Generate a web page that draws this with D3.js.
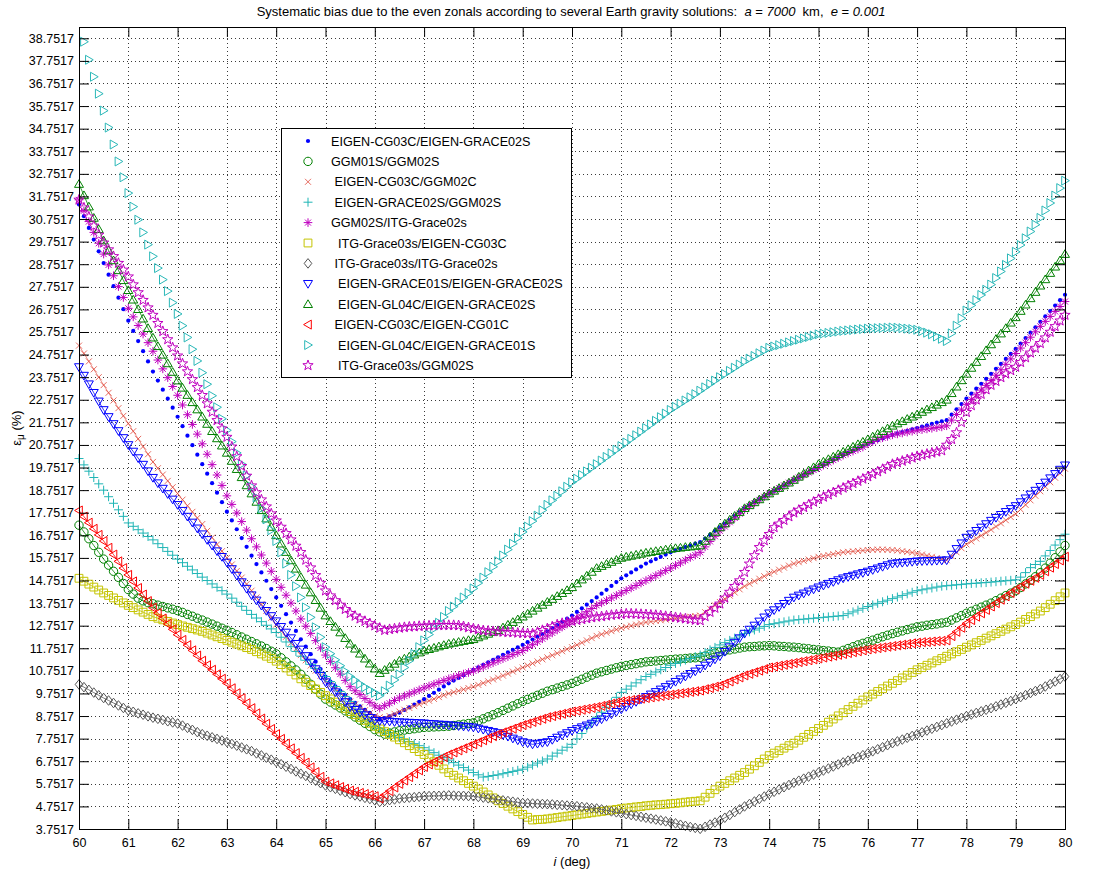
<!DOCTYPE html>
<html>
<head>
<script src="https://d3js.org/d3.v7.min.js"></script>
<style>
    body { margin: 0; background: #fff; font-family: Arial, "Liberation Sans", sans-serif; }
    text { white-space: pre; }
</style>
</head>
<body>
<svg width="1097" height="873"></svg>
<script>

// inclination grid (deg), one sample every 0.1 deg
const incl = d3.range(0, 201).map(i => 60 + i / 10);
const xTicks = d3.range(60, 81);
const yTicks = d3.range(0, 36).map(k => 3.7517 + k);

const legendNames = [
    "EIGEN-CG03C/EIGEN-GRACE02S",
    "GGM01S/GGM02S",
    " EIGEN-CG03C/GGM02C",
    " EIGEN-GRACE02S/GGM02S",
    "GGM02S/ITG-Grace02s",
    "  ITG-Grace03s/EIGEN-CG03C",
    " ITG-Grace03s/ITG-Grace02s",
    "  EIGEN-GRACE01S/EIGEN-GRACE02S",
    "  EIGEN-GL04C/EIGEN-GRACE02S",
    " EIGEN-CG03C/EIGEN-CG01C",
    "  EIGEN-GL04C/EIGEN-GRACE01S",
    "  ITG-Grace03s/GGM02S"
];

// values in %
const cg03cGrace02s = [31.40,30.88,30.36,29.84,29.32,28.80,28.29,27.78,27.27,26.76,
26.25,25.80,25.35,24.90,24.45,24.00,23.60,23.20,22.80,22.40,
22.00,21.58,21.16,20.74,20.32,19.90,19.48,19.06,18.64,18.22,
17.80,17.41,17.02,16.63,16.24,15.85,15.48,15.11,14.74,14.37,
14.00,13.63,13.26,12.89,12.52,12.15,11.82,11.49,11.16,10.83,
10.50,10.28,10.07,9.87,9.68,9.50,9.34,9.18,9.03,8.89,
8.75,8.60,8.66,8.74,8.82,8.90,9.02,9.14,9.26,9.38,
9.50,9.64,9.78,9.92,10.06,10.20,10.32,10.44,10.56,10.68,
10.80,10.91,11.02,11.13,11.24,11.35,11.46,11.57,11.68,11.79,
11.90,12.02,12.14,12.26,12.38,12.50,12.64,12.78,12.92,13.06,
13.20,13.36,13.52,13.68,13.84,14.00,14.17,14.34,14.51,14.68,
14.85,14.98,15.11,15.24,15.37,15.50,15.60,15.70,15.80,15.90,
16.00,16.08,16.15,16.23,16.30,16.38,16.45,16.61,16.77,16.94,
17.10,17.27,17.44,17.61,17.78,17.95,18.08,18.21,18.34,18.47,
18.60,18.72,18.84,18.96,19.08,19.20,19.31,19.42,19.53,19.64,
19.75,19.86,19.97,20.08,20.19,20.30,20.40,20.50,20.60,20.70,
20.80,20.88,20.96,21.04,21.12,21.20,21.26,21.32,21.38,21.44,
21.50,21.56,21.62,21.68,21.74,21.80,21.85,22.09,22.33,22.56,
22.80,23.02,23.24,23.46,23.68,23.90,24.12,24.34,24.56,24.78,
25.00,25.24,25.48,25.72,25.96,26.20,26.44,26.68,26.92,27.16,
27.40];

const ggm01sGgm02s = [17.2,16.9,16.6,16.3,16.0,15.7,15.43,15.16,14.89,14.62,
14.35,14.15,13.97,13.85,13.77,13.72,13.66,13.6,13.54,13.48,
13.42,13.34,13.25,13.17,13.08,13.0,12.91,12.82,12.73,12.64,
12.55,12.45,12.35,12.25,12.15,12.05,11.95,11.85,11.74,11.62,
11.5,11.33,11.15,10.97,10.79,10.6,10.38,10.16,9.94,9.72,
9.5,9.37,9.24,9.11,8.98,8.85,8.71,8.57,8.43,8.29,
8.15,8.05,7.95,8.0,8.05,8.1,8.13,8.16,8.19,8.22,
8.25,8.26,8.27,8.28,8.29,8.3,8.33,8.36,8.39,8.42,
8.45,8.54,8.63,8.72,8.81,8.9,9.0,9.1,9.2,9.3,
9.4,9.49,9.58,9.67,9.76,9.85,9.92,9.99,10.06,10.13,
10.2,10.29,10.38,10.47,10.56,10.65,10.71,10.77,10.83,10.89,
10.95,10.99,11.03,11.07,11.11,11.15,11.17,11.19,11.21,11.23,
11.25,11.27,11.28,11.3,11.32,11.33,11.35,11.41,11.48,11.54,
11.6,11.64,11.68,11.72,11.76,11.8,11.82,11.83,11.85,11.86,
11.87,11.86,11.84,11.83,11.81,11.8,11.78,11.75,11.73,11.7,
11.68,11.65,11.63,11.6,11.58,11.66,11.74,11.82,11.9,11.97,
12.04,12.11,12.19,12.26,12.33,12.4,12.46,12.52,12.58,12.64,
12.7,12.73,12.77,12.8,12.83,12.87,12.9,13.0,13.1,13.2,
13.3,13.39,13.48,13.57,13.66,13.75,13.86,13.97,14.08,14.19,
14.3,14.44,14.6,14.76,14.92,15.1,15.3,15.52,15.76,16.02,
16.3];

const cg03cGgm02c = [25.15,24.8,24.45,24.1,23.75,23.4,23.06,22.72,22.38,22.04,
21.7,21.36,21.02,20.68,20.34,20.0,19.72,19.44,19.16,18.88,
18.6,18.33,18.06,17.79,17.52,17.25,16.95,16.65,16.35,16.05,
15.75,15.46,15.17,14.88,14.59,14.3,14.0,13.7,13.4,13.1,
12.8,12.53,12.26,11.99,11.72,11.45,11.22,10.99,10.76,10.53,
10.3,10.12,9.94,9.76,9.58,9.4,9.27,9.14,9.01,8.88,
8.75,8.7,8.65,8.75,8.85,8.95,9.03,9.11,9.19,9.27,
9.35,9.43,9.51,9.59,9.67,9.75,9.81,9.87,9.93,9.99,
10.05,10.13,10.21,10.29,10.37,10.45,10.54,10.63,10.72,10.81,
10.9,10.99,11.08,11.17,11.26,11.35,11.44,11.53,11.62,11.71,
11.8,11.9,12.0,12.1,12.2,12.3,12.37,12.44,12.51,12.58,
12.65,12.7,12.75,12.8,12.85,12.9,12.93,12.96,12.99,13.02,
13.05,13.08,13.1,13.13,13.15,13.18,13.2,13.35,13.5,13.65,
13.8,13.94,14.08,14.22,14.36,14.5,14.61,14.72,14.83,14.94,
15.05,15.14,15.23,15.32,15.41,15.5,15.56,15.62,15.68,15.74,
15.8,15.84,15.88,15.92,15.96,16.0,16.02,16.04,16.06,16.08,
16.1,16.11,16.12,16.12,16.11,16.1,16.08,16.05,16.02,15.99,
15.95,15.9,15.85,15.8,15.75,15.7,15.65,15.83,16.0,16.18,
16.35,16.48,16.61,16.74,16.87,17.0,17.14,17.28,17.42,17.56,
17.7,17.9,18.1,18.3,18.5,18.7,18.9,19.1,19.3,19.5,
19.7];

const grace02sGgm02s = [20.15,19.87,19.59,19.31,19.03,18.75,18.46,18.17,17.88,17.59,
17.3,17.15,17.0,16.85,16.7,16.55,16.38,16.21,16.04,15.87,
15.7,15.54,15.38,15.22,15.06,14.9,14.75,14.6,14.45,14.3,
14.15,13.97,13.79,13.61,13.43,13.25,13.09,12.93,12.77,12.61,
12.45,12.24,12.03,11.82,11.61,11.4,11.22,11.04,10.86,10.68,
10.5,10.28,10.06,9.84,9.62,9.4,9.18,8.96,8.74,8.52,
8.3,8.2,8.1,8.0,7.9,7.8,7.71,7.62,7.53,7.44,
7.35,7.24,7.13,7.02,6.91,6.8,6.69,6.58,6.47,6.36,
6.25,6.15,6.05,6.08,6.12,6.15,6.2,6.25,6.3,6.35,
6.4,6.49,6.58,6.67,6.76,6.85,6.98,7.11,7.24,7.37,
7.5,7.74,7.98,8.22,8.46,8.7,8.92,9.14,9.36,9.58,
9.8,9.94,10.08,10.22,10.36,10.5,10.6,10.7,10.8,10.9,
11.0,11.08,11.15,11.23,11.3,11.38,11.45,11.56,11.68,11.79,
11.9,12.0,12.1,12.2,12.3,12.4,12.48,12.56,12.64,12.72,
12.8,12.84,12.88,12.92,12.96,13.0,13.02,13.04,13.06,13.08,
13.1,13.12,13.14,13.16,13.18,13.2,13.28,13.36,13.44,13.52,
13.6,13.67,13.74,13.81,13.88,13.95,14.02,14.09,14.16,14.23,
14.3,14.34,14.38,14.42,14.46,14.5,14.52,14.54,14.56,14.58,
14.6,14.62,14.63,14.65,14.66,14.68,14.7,14.72,14.74,14.76,
14.78,14.9,15.1,15.32,15.46,15.6,15.84,16.08,16.32,16.56,
16.8];

const ggm02sItg02s = [31.6,31.12,30.64,30.16,29.68,29.2,28.72,28.24,27.76,27.28,
26.8,26.42,26.04,25.66,25.28,24.9,24.51,24.12,23.73,23.34,
22.95,22.52,22.09,21.66,21.23,20.8,20.34,19.88,19.42,18.96,
18.5,18.12,17.74,17.36,16.98,16.6,16.24,15.88,15.52,15.16,
14.8,14.45,14.1,13.75,13.4,13.05,12.73,12.41,12.09,11.77,
11.45,11.17,10.89,10.61,10.33,10.05,9.87,9.7,9.53,9.36,
9.2,9.1,9.21,9.32,9.44,9.55,9.64,9.73,9.82,9.91,
10.0,10.08,10.16,10.24,10.32,10.4,10.47,10.54,10.61,10.68,
10.75,10.84,10.93,11.02,11.11,11.2,11.29,11.38,11.47,11.56,
11.65,11.78,11.91,12.04,12.17,12.3,12.43,12.56,12.69,12.82,
12.95,13.09,13.23,13.37,13.51,13.65,13.76,13.87,13.98,14.09,
14.2,14.31,14.42,14.53,14.64,14.75,14.86,14.97,15.08,15.19,
15.3,15.42,15.53,15.65,15.77,15.88,16.0,16.24,16.48,16.71,
16.95,17.14,17.33,17.52,17.71,17.9,18.04,18.18,18.32,18.46,
18.6,18.72,18.84,18.96,19.08,19.2,19.31,19.42,19.53,19.64,
19.75,19.86,19.97,20.08,20.19,20.3,20.39,20.48,20.57,20.66,
20.8,20.9,21.0,21.07,21.13,21.2,21.24,21.28,21.32,21.36,
21.4,21.43,21.46,21.49,21.52,21.55,21.6,21.85,22.1,22.3,
22.55,22.76,22.97,23.18,23.39,23.6,23.84,24.08,24.32,24.56,
24.8,25.04,25.28,25.52,25.76,26.0,26.22,26.44,26.66,26.88,
27.1];

const itg03sCg03c = [14.85,14.72,14.59,14.46,14.33,14.2,14.09,13.98,13.87,13.76,
13.65,13.55,13.45,13.35,13.25,13.15,13.08,13.01,12.94,12.87,
12.8,12.74,12.68,12.62,12.56,12.5,12.42,12.34,12.26,12.18,
12.1,12.02,11.94,11.86,11.78,11.7,11.6,11.5,11.4,11.3,
11.18,11.03,10.88,10.73,10.57,10.4,10.25,10.1,9.95,9.8,
9.65,9.51,9.37,9.23,9.09,8.95,8.82,8.69,8.56,8.43,
8.3,8.18,8.06,7.94,7.82,7.7,7.57,7.44,7.31,7.18,
7.05,6.89,6.73,6.57,6.41,6.25,6.13,6.01,5.89,5.77,
5.65,5.52,5.39,5.26,5.13,5.0,4.88,4.76,4.64,4.52,
4.4,4.27,4.15,4.17,4.18,4.2,4.23,4.26,4.29,4.32,
4.35,4.38,4.41,4.44,4.47,4.5,4.53,4.56,4.59,4.62,
4.65,4.68,4.7,4.73,4.75,4.78,4.8,4.82,4.83,4.85,
4.87,4.89,4.91,4.94,4.96,4.98,5.0,5.16,5.33,5.49,
5.65,5.77,5.89,6.01,6.13,6.25,6.4,6.55,6.7,6.85,
7.0,7.11,7.22,7.33,7.44,7.55,7.68,7.81,7.94,8.07,
8.2,8.34,8.48,8.62,8.76,8.9,9.04,9.18,9.32,9.46,
9.6,9.72,9.84,9.96,10.08,10.2,10.32,10.44,10.56,10.68,
10.8,10.9,11.0,11.1,11.2,11.3,11.4,11.5,11.6,11.7,
11.8,11.9,12.0,12.1,12.2,12.3,12.4,12.5,12.6,12.7,
12.8,12.91,13.03,13.15,13.27,13.4,13.55,13.7,13.86,14.03,
14.2];

const itg03sItg02s = [10.15,10.03,9.91,9.79,9.67,9.55,9.44,9.33,9.22,9.11,
9.0,8.94,8.87,8.81,8.74,8.68,8.63,8.58,8.52,8.47,
8.42,8.33,8.23,8.14,8.04,7.95,7.88,7.81,7.74,7.67,
7.6,7.52,7.44,7.36,7.28,7.2,7.1,7.01,6.91,6.82,
6.72,6.62,6.51,6.41,6.3,6.2,6.1,5.99,5.89,5.78,
5.68,5.6,5.53,5.45,5.38,5.3,5.24,5.19,5.13,5.08,
5.02,4.95,4.99,5.03,5.06,5.1,5.12,5.14,5.16,5.18,
5.2,5.21,5.22,5.22,5.23,5.24,5.23,5.22,5.22,5.21,
5.2,5.17,5.14,5.11,5.08,5.05,5.02,4.99,4.96,4.93,
4.9,4.89,4.88,4.87,4.86,4.85,4.84,4.82,4.81,4.79,
4.78,4.76,4.73,4.71,4.68,4.66,4.62,4.58,4.53,4.49,
4.45,4.41,4.37,4.33,4.29,4.25,4.21,4.17,4.13,4.09,
4.05,4.0,3.94,3.89,3.84,3.8,3.76,3.85,3.95,4.04,
4.12,4.25,4.37,4.5,4.62,4.75,4.86,4.97,5.08,5.19,
5.3,5.4,5.5,5.6,5.7,5.8,5.89,5.98,6.07,6.16,
6.25,6.34,6.43,6.52,6.61,6.7,6.78,6.86,6.94,7.02,
7.1,7.19,7.28,7.37,7.46,7.55,7.63,7.71,7.79,7.87,
7.95,8.03,8.11,8.19,8.27,8.35,8.43,8.51,8.59,8.67,
8.75,8.82,8.89,8.96,9.03,9.1,9.18,9.26,9.34,9.42,
9.5,9.59,9.68,9.77,9.86,9.95,10.06,10.17,10.28,10.39,
10.5];

const grace01sGrace02s = [24.2,23.82,23.44,23.06,22.68,22.3,21.99,21.68,21.37,21.06,
20.75,20.46,20.17,19.88,19.59,19.3,19.06,18.82,18.58,18.34,
18.1,17.84,17.58,17.32,17.06,16.8,16.55,16.3,16.05,15.8,
15.55,15.26,14.97,14.68,14.39,14.1,13.87,13.64,13.41,13.18,
12.95,12.7,12.45,12.2,11.95,11.7,11.41,11.12,10.83,10.54,
10.25,10.03,9.81,9.59,9.37,9.15,9.03,8.91,8.79,8.67,
8.55,8.54,8.52,8.51,8.49,8.48,8.47,8.46,8.45,8.44,
8.43,8.41,8.4,8.38,8.37,8.35,8.33,8.31,8.29,8.27,
8.25,8.2,8.15,8.1,8.05,8.0,7.92,7.84,7.76,7.68,
7.6,7.55,7.5,7.53,7.57,7.6,7.7,7.8,7.9,8.0,
8.1,8.18,8.26,8.34,8.42,8.5,8.61,8.72,8.83,8.94,
9.05,9.16,9.27,9.38,9.49,9.6,9.71,9.82,9.93,10.04,
10.15,10.27,10.38,10.5,10.62,10.73,10.85,10.99,11.12,11.26,
11.4,11.6,11.8,12.0,12.2,12.4,12.58,12.76,12.94,13.12,
13.3,13.44,13.58,13.72,13.86,14.0,14.09,14.18,14.27,14.36,
14.45,14.53,14.61,14.69,14.77,14.85,14.91,14.97,15.03,15.09,
15.15,15.22,15.29,15.36,15.43,15.5,15.52,15.54,15.56,15.58,
15.6,15.61,15.62,15.62,15.63,15.64,15.65,15.9,16.15,16.4,
16.65,16.8,16.95,17.1,17.25,17.4,17.53,17.66,17.79,17.92,
18.05,18.22,18.39,18.56,18.73,18.9,19.09,19.28,19.47,19.66,
19.85];

const gl04cGrace02s = [32.3,31.8,31.3,30.8,30.3,29.8,29.36,28.92,28.48,28.04,
27.6,27.18,26.76,26.34,25.92,25.5,25.12,24.74,24.36,23.98,
23.6,23.28,22.96,22.64,22.32,22.0,21.68,21.36,21.04,20.72,
20.4,20.04,19.68,19.32,18.96,18.6,18.23,17.86,17.49,17.12,
16.75,16.38,16.01,15.64,15.27,14.9,14.56,14.22,13.88,13.54,
13.2,12.95,12.7,12.45,12.2,11.95,11.73,11.51,11.29,11.07,
10.85,10.65,10.79,10.93,11.06,11.2,11.29,11.38,11.47,11.56,
11.65,11.71,11.77,11.83,11.89,11.95,11.99,12.03,12.07,12.11,
12.15,12.23,12.31,12.39,12.47,12.55,12.67,12.79,12.91,13.03,
13.15,13.28,13.41,13.54,13.67,13.8,13.93,14.06,14.19,14.32,
14.45,14.62,14.79,14.96,15.13,15.3,15.39,15.48,15.57,15.66,
15.75,15.8,15.84,15.89,15.93,15.98,16.01,16.05,16.08,16.12,
16.15,16.18,16.2,16.23,16.25,16.28,16.3,16.5,16.7,16.9,
17.1,17.27,17.44,17.61,17.78,17.95,18.08,18.21,18.34,18.47,
18.6,18.72,18.84,18.96,19.08,19.2,19.34,19.48,19.62,19.76,
19.9,20.01,20.12,20.23,20.34,20.45,20.56,20.67,20.78,20.89,
21.0,21.12,21.24,21.36,21.48,21.6,21.7,21.8,21.9,22.0,
22.1,22.21,22.32,22.42,22.53,22.64,22.75,23.04,23.33,23.61,
23.9,24.16,24.42,24.68,24.94,25.2,25.44,25.68,25.92,26.16,
26.4,26.68,26.96,27.24,27.52,27.8,28.08,28.36,28.64,28.92,
29.2];

const cg03cCg01c = [17.85,17.58,17.31,17.04,16.77,16.5,16.2,15.9,15.6,15.3,
15.0,14.71,14.42,14.13,13.84,13.55,13.31,13.07,12.83,12.59,
12.35,12.12,11.89,11.66,11.43,11.2,11.0,10.8,10.6,10.4,
10.2,9.98,9.76,9.54,9.32,9.1,8.87,8.64,8.41,8.18,
7.95,7.74,7.53,7.32,7.11,6.9,6.69,6.48,6.27,6.06,
5.85,5.77,5.69,5.61,5.53,5.45,5.4,5.35,5.3,5.25,
5.2,5.1,5.26,5.43,5.59,5.75,5.9,6.05,6.2,6.35,
6.5,6.61,6.72,6.83,6.94,7.05,7.14,7.23,7.32,7.41,
7.5,7.59,7.68,7.77,7.86,7.95,8.03,8.11,8.19,8.27,
8.35,8.42,8.49,8.56,8.63,8.7,8.75,8.8,8.85,8.9,
8.95,8.99,9.03,9.07,9.11,9.15,9.2,9.25,9.3,9.35,
9.4,9.43,9.46,9.49,9.52,9.55,9.58,9.61,9.64,9.67,
9.7,9.73,9.76,9.79,9.82,9.85,9.88,9.94,9.99,10.05,
10.1,10.19,10.28,10.37,10.46,10.55,10.62,10.69,10.76,10.83,
10.9,10.94,10.98,11.02,11.06,11.1,11.14,11.18,11.22,11.26,
11.3,11.34,11.38,11.42,11.46,11.5,11.54,11.58,11.62,11.66,
11.7,11.73,11.76,11.79,11.82,11.85,11.88,11.91,11.94,11.97,
12.0,12.02,12.03,12.05,12.07,12.08,12.1,12.29,12.48,12.66,
12.85,13.0,13.15,13.3,13.45,13.6,13.75,13.9,14.05,14.2,
14.35,14.48,14.61,14.74,14.87,15.0,15.16,15.32,15.48,15.64,
15.8];

const gl04cGrace01s = [39.4,38.6,37.8,37.05,36.3,35.55,34.8,34.05,33.3,32.6,
31.9,31.3,30.72,30.16,29.62,29.1,28.58,28.07,27.56,27.05,
26.55,26.03,25.51,24.99,24.47,23.95,23.44,22.93,22.42,21.91,
21.4,20.9,20.4,19.9,19.4,18.9,18.42,17.94,17.46,16.98,
16.5,16.0,15.5,15.0,14.5,14.0,13.56,13.12,12.68,12.24,
11.8,11.51,11.24,10.98,10.73,10.5,10.33,10.17,10.03,9.9,
9.78,9.65,9.85,10.1,10.35,10.6,10.9,11.2,11.5,11.8,
12.1,12.36,12.62,12.88,13.14,13.4,13.6,13.8,14.0,14.2,
14.4,14.64,14.88,15.12,15.36,15.6,15.86,16.12,16.38,16.64,
16.9,17.14,17.38,17.62,17.86,18.1,18.3,18.5,18.7,18.9,
19.1,19.26,19.42,19.58,19.74,19.9,20.06,20.22,20.38,20.54,
20.7,20.86,21.02,21.18,21.34,21.5,21.66,21.82,21.98,22.14,
22.3,22.44,22.58,22.72,22.86,23.0,23.15,23.3,23.45,23.6,
23.75,23.89,24.03,24.17,24.31,24.45,24.57,24.69,24.81,24.93,
25.05,25.11,25.17,25.23,25.29,25.35,25.41,25.47,25.53,25.59,
25.65,25.68,25.71,25.74,25.77,25.8,25.82,25.84,25.86,25.88,
25.9,25.91,25.92,25.93,25.94,25.95,25.94,25.92,25.9,25.88,
25.85,25.79,25.72,25.65,25.55,25.45,25.35,25.69,26.03,26.36,
26.7,26.93,27.16,27.39,27.62,27.85,28.14,28.43,28.72,29.01,
29.3,29.6,29.9,30.2,30.5,30.8,31.13,31.46,31.79,32.12,
32.45];

const itg03sGgm02s = [31.6,31.25,30.85,30.45,30.05,29.7,29.4,29.1,28.8,28.5,
28.2,27.85,27.5,27.16,26.83,26.5,26.14,25.78,25.42,25.06,
24.7,24.35,24.0,23.65,23.3,22.95,22.58,22.21,21.84,21.47,
21.1,20.67,20.24,19.81,19.38,18.95,18.64,18.33,18.02,17.71,
17.4,17.12,16.84,16.56,16.28,16.0,15.66,15.32,14.98,14.64,
14.3,14.08,13.87,13.67,13.48,13.3,13.18,13.06,12.95,12.85,
12.75,12.65,12.55,12.59,12.62,12.65,12.68,12.7,12.71,12.73,
12.74,12.75,12.76,12.77,12.77,12.77,12.77,12.76,12.72,12.67,
12.62,12.58,12.54,12.52,12.5,12.49,12.47,12.46,12.45,12.43,
12.42,12.41,12.4,12.47,12.55,12.63,12.71,12.8,12.86,12.9,
12.95,12.99,13.03,13.07,13.11,13.14,13.16,13.19,13.22,13.24,
13.26,13.28,13.28,13.27,13.26,13.25,13.23,13.22,13.2,13.17,
13.14,13.12,13.09,13.06,13.03,13.0,12.98,13.16,13.35,13.53,
13.72,13.98,14.24,14.5,14.75,15.12,15.49,15.86,16.22,16.52,
16.8,17.1,17.26,17.42,17.58,17.75,17.87,17.99,18.11,18.23,
18.35,18.45,18.55,18.65,18.75,18.85,18.95,19.05,19.15,19.25,
19.35,19.46,19.57,19.68,19.79,19.9,19.97,20.04,20.11,20.18,
20.25,20.3,20.35,20.4,20.45,20.5,20.75,21.0,21.3,21.75,
22.2,22.5,22.75,23.0,23.2,23.4,23.57,23.74,23.9,24.05,
24.2,24.41,24.62,24.83,25.04,25.25,25.5,25.75,26.0,26.25,
26.5];

// plotting order = legend order, later series on top
const series = [
    { values: cg03cGrace02s, color: "#0000ff", marker: ".", line: false },
    { values: ggm01sGgm02s, color: "#008000", marker: "o", line: true },
    { values: cg03cGgm02c, color: "#e0483a", marker: "x", line: true },
    { values: grace02sGgm02s, color: "#1fb5b5", marker: "+", line: false },
    { values: ggm02sItg02s, color: "#bf00bf", marker: "*", line: false },
    { values: itg03sCg03c, color: "#c4c400", marker: "s", line: true },
    { values: itg03sItg02s, color: "#555555", marker: "d", line: true },
    { values: grace01sGrace02s, color: "#0000ff", marker: "v", line: true },
    { values: gl04cGrace02s, color: "#008000", marker: "^", line: true },
    { values: cg03cCg01c, color: "#ff0000", marker: "<", line: true },
    { values: gl04cGrace01s, color: "#2ab8b8", marker: ">", line: false },
    { values: itg03sGgm02s, color: "#bf00bf", marker: "p", line: false }
];

const svg = d3.select("svg");
const axL = 79, axR = 1065, axT = 27, axB = 829;

const x = d3.scaleLinear().domain([60, 80]).range([axL, axR]);
const y = d3.scaleLinear().domain([3.7517, 39.2517]).range([axB, axT]);

function pentagram(ro, ri) {
    let p = [];
    for (let k = 0; k < 10; k++) {
        const r = k % 2 === 0 ? ro : ri;
        const a = -Math.PI / 2 + k * Math.PI / 5;
        p.push([r * Math.cos(a), r * Math.sin(a)]);
    }
    return "M" + p.map(q => q[0].toFixed(2) + "," + q[1].toFixed(2)).join("L") + "Z";
}

function markerPath(kind) {
    switch (kind) {
        case ".": return d3.symbol(d3.symbolCircle, 14)();
        case "o": return d3.symbol(d3.symbolCircle, 55)();
        case "x": return "M-3,-3L3,3M-3,3L3,-3";
        case "+": return "M-4.5,0H4.5M0,-4.5V4.5";
        case "*": return "M-4.3,0H4.3M0,-4.3V4.3M-3,-3L3,3M-3,3L3,-3";
        case "s": return "M-3.9,-3.9H3.9V3.9H-3.9Z";
        case "d": return "M0,-4.8L3.8,0L0,4.8L-3.8,0Z";
        case "v": return "M-4.5,-3.3H4.5L0,4.4Z";
        case "^": return "M-4.5,3.3H4.5L0,-4.4Z";
        case "<": return "M3.3,-4.5V4.5L-4.4,0Z";
        case ">": return "M-3.3,-4.5V4.5L4.4,0Z";
        case "p": return pentagram(5.4, 2.2);
    }
}

// grid
const grid = svg.append("g").attr("stroke", "#3a3a3a").attr("stroke-width", 1)
    .attr("stroke-dasharray", "1,3").attr("fill", "none");
grid.selectAll("line.v").data(xTicks.slice(1, -1)).join("line")
    .attr("class", "v")
    .attr("x1", d => Math.round(x(d)) + 0.5).attr("x2", d => Math.round(x(d)) + 0.5)
    .attr("y1", axT).attr("y2", axB);
grid.selectAll("line.h").data(yTicks.slice(1)).join("line")
    .attr("class", "h")
    .attr("y1", d => Math.round(y(d)) + 0.5).attr("y2", d => Math.round(y(d)) + 0.5)
    .attr("x1", axL).attr("x2", axR);

// data
const plot = svg.append("g");
const line = d3.line().x(d => x(d[0])).y(d => y(d[1]));
series.forEach(s => {
    const pts = s.values.map((v, i) => [incl[i], v])
        .filter(p => p[1] >= y.domain()[0] && p[1] <= y.domain()[1]);
    const g = plot.append("g");
    if (s.line) {
        g.append("path").attr("d", line(pts)).attr("fill", "none")
            .attr("stroke", s.color).attr("stroke-width", s.marker === "x" ? 0.6 : 0.8);
    }
    g.selectAll("path.m").data(pts).join("path")
        .attr("class", "m")
        .attr("transform", d => `translate(${x(d[0])},${y(d[1])})`)
        .attr("d", markerPath(s.marker))
        .attr("fill", s.marker === "." ? s.color : "none")
        .attr("stroke", s.marker === "." ? "none" : s.color)
        .attr("stroke-width", s.marker === "x" ? 0.8 : 1);
});

// axes, ticks pointing inward on all four sides
const fmt = d3.format(".4f");
function styleAxis(g) {
    g.select(".domain").remove();
    g.selectAll("line").attr("stroke", "#000");
    g.selectAll("text").attr("font-size", 12.5).attr("font-family", "Arial, 'Liberation Sans', sans-serif").attr("fill", "#000");
}
svg.append("g").attr("transform", `translate(${axL},0)`)
    .call(d3.axisLeft(y).tickValues(yTicks).tickFormat(fmt).tickSize(-10).tickPadding(5))
    .call(styleAxis);
svg.append("g").attr("transform", `translate(${axR},0)`)
    .call(d3.axisRight(y).tickValues(yTicks).tickFormat("").tickSize(-10))
    .call(styleAxis);
svg.append("g").attr("transform", `translate(0,${axB})`)
    .call(d3.axisBottom(x).tickValues(xTicks).tickFormat(d3.format("d")).tickSize(-10).tickPadding(9))
    .call(styleAxis);
svg.append("g").attr("transform", `translate(0,${axT})`)
    .call(d3.axisTop(x).tickValues(xTicks).tickFormat("").tickSize(-10))
    .call(styleAxis);

svg.append("rect").attr("x", axL + 0.5).attr("y", axT + 0.5)
    .attr("width", axR - axL).attr("height", axB - axT)
    .attr("fill", "none").attr("stroke", "#000");

// title
const title = svg.append("text").attr("x", 571).attr("y", 16)
    .attr("text-anchor", "middle").attr("font-size", 13);
title.append("tspan").text("Systematic bias due to the even zonals according to several Earth gravity solutions:  ");
title.append("tspan").attr("font-style", "italic").text("a");
title.append("tspan").text(" = ");
title.append("tspan").attr("font-style", "italic").text("7000");
title.append("tspan").text("  km,  ");
title.append("tspan").attr("font-style", "italic").text("e");
title.append("tspan").text(" = ");
title.append("tspan").attr("font-style", "italic").text("0.001");

// axis labels
const xl = svg.append("text").attr("x", 572).attr("y", 866)
    .attr("text-anchor", "middle").attr("font-size", 13);
xl.append("tspan").attr("font-style", "italic").text("i");
xl.append("tspan").text(" (deg)");

const yl = svg.append("text").attr("transform", "translate(21,428) rotate(-90)")
    .attr("text-anchor", "middle").attr("font-size", 13);
yl.append("tspan").text("ε");
yl.append("tspan").attr("font-size", 10).attr("dy", 3).text("μ");
yl.append("tspan").attr("dy", -3).text(" (%)");

// legend
const lg = svg.append("g");
lg.append("rect").attr("x", 281.5).attr("y", 128.5).attr("width", 290).attr("height", 249)
    .attr("fill", "#fff").attr("stroke", "#000");
series.forEach((s, i) => {
    const ry = 141 + i * 20.4;
    lg.append("path").attr("transform", `translate(308,${ry})`)
        .attr("d", markerPath(s.marker))
        .attr("fill", s.marker === "." ? s.color : "none")
        .attr("stroke", s.marker === "." ? "none" : s.color)
        .attr("stroke-width", s.marker === "x" ? 0.8 : 1);
    lg.append("text").attr("x", 331).attr("y", ry + 4.5).attr("font-size", 12.6)
        .text(legendNames[i]);
});

</script>
</body>
</html>
